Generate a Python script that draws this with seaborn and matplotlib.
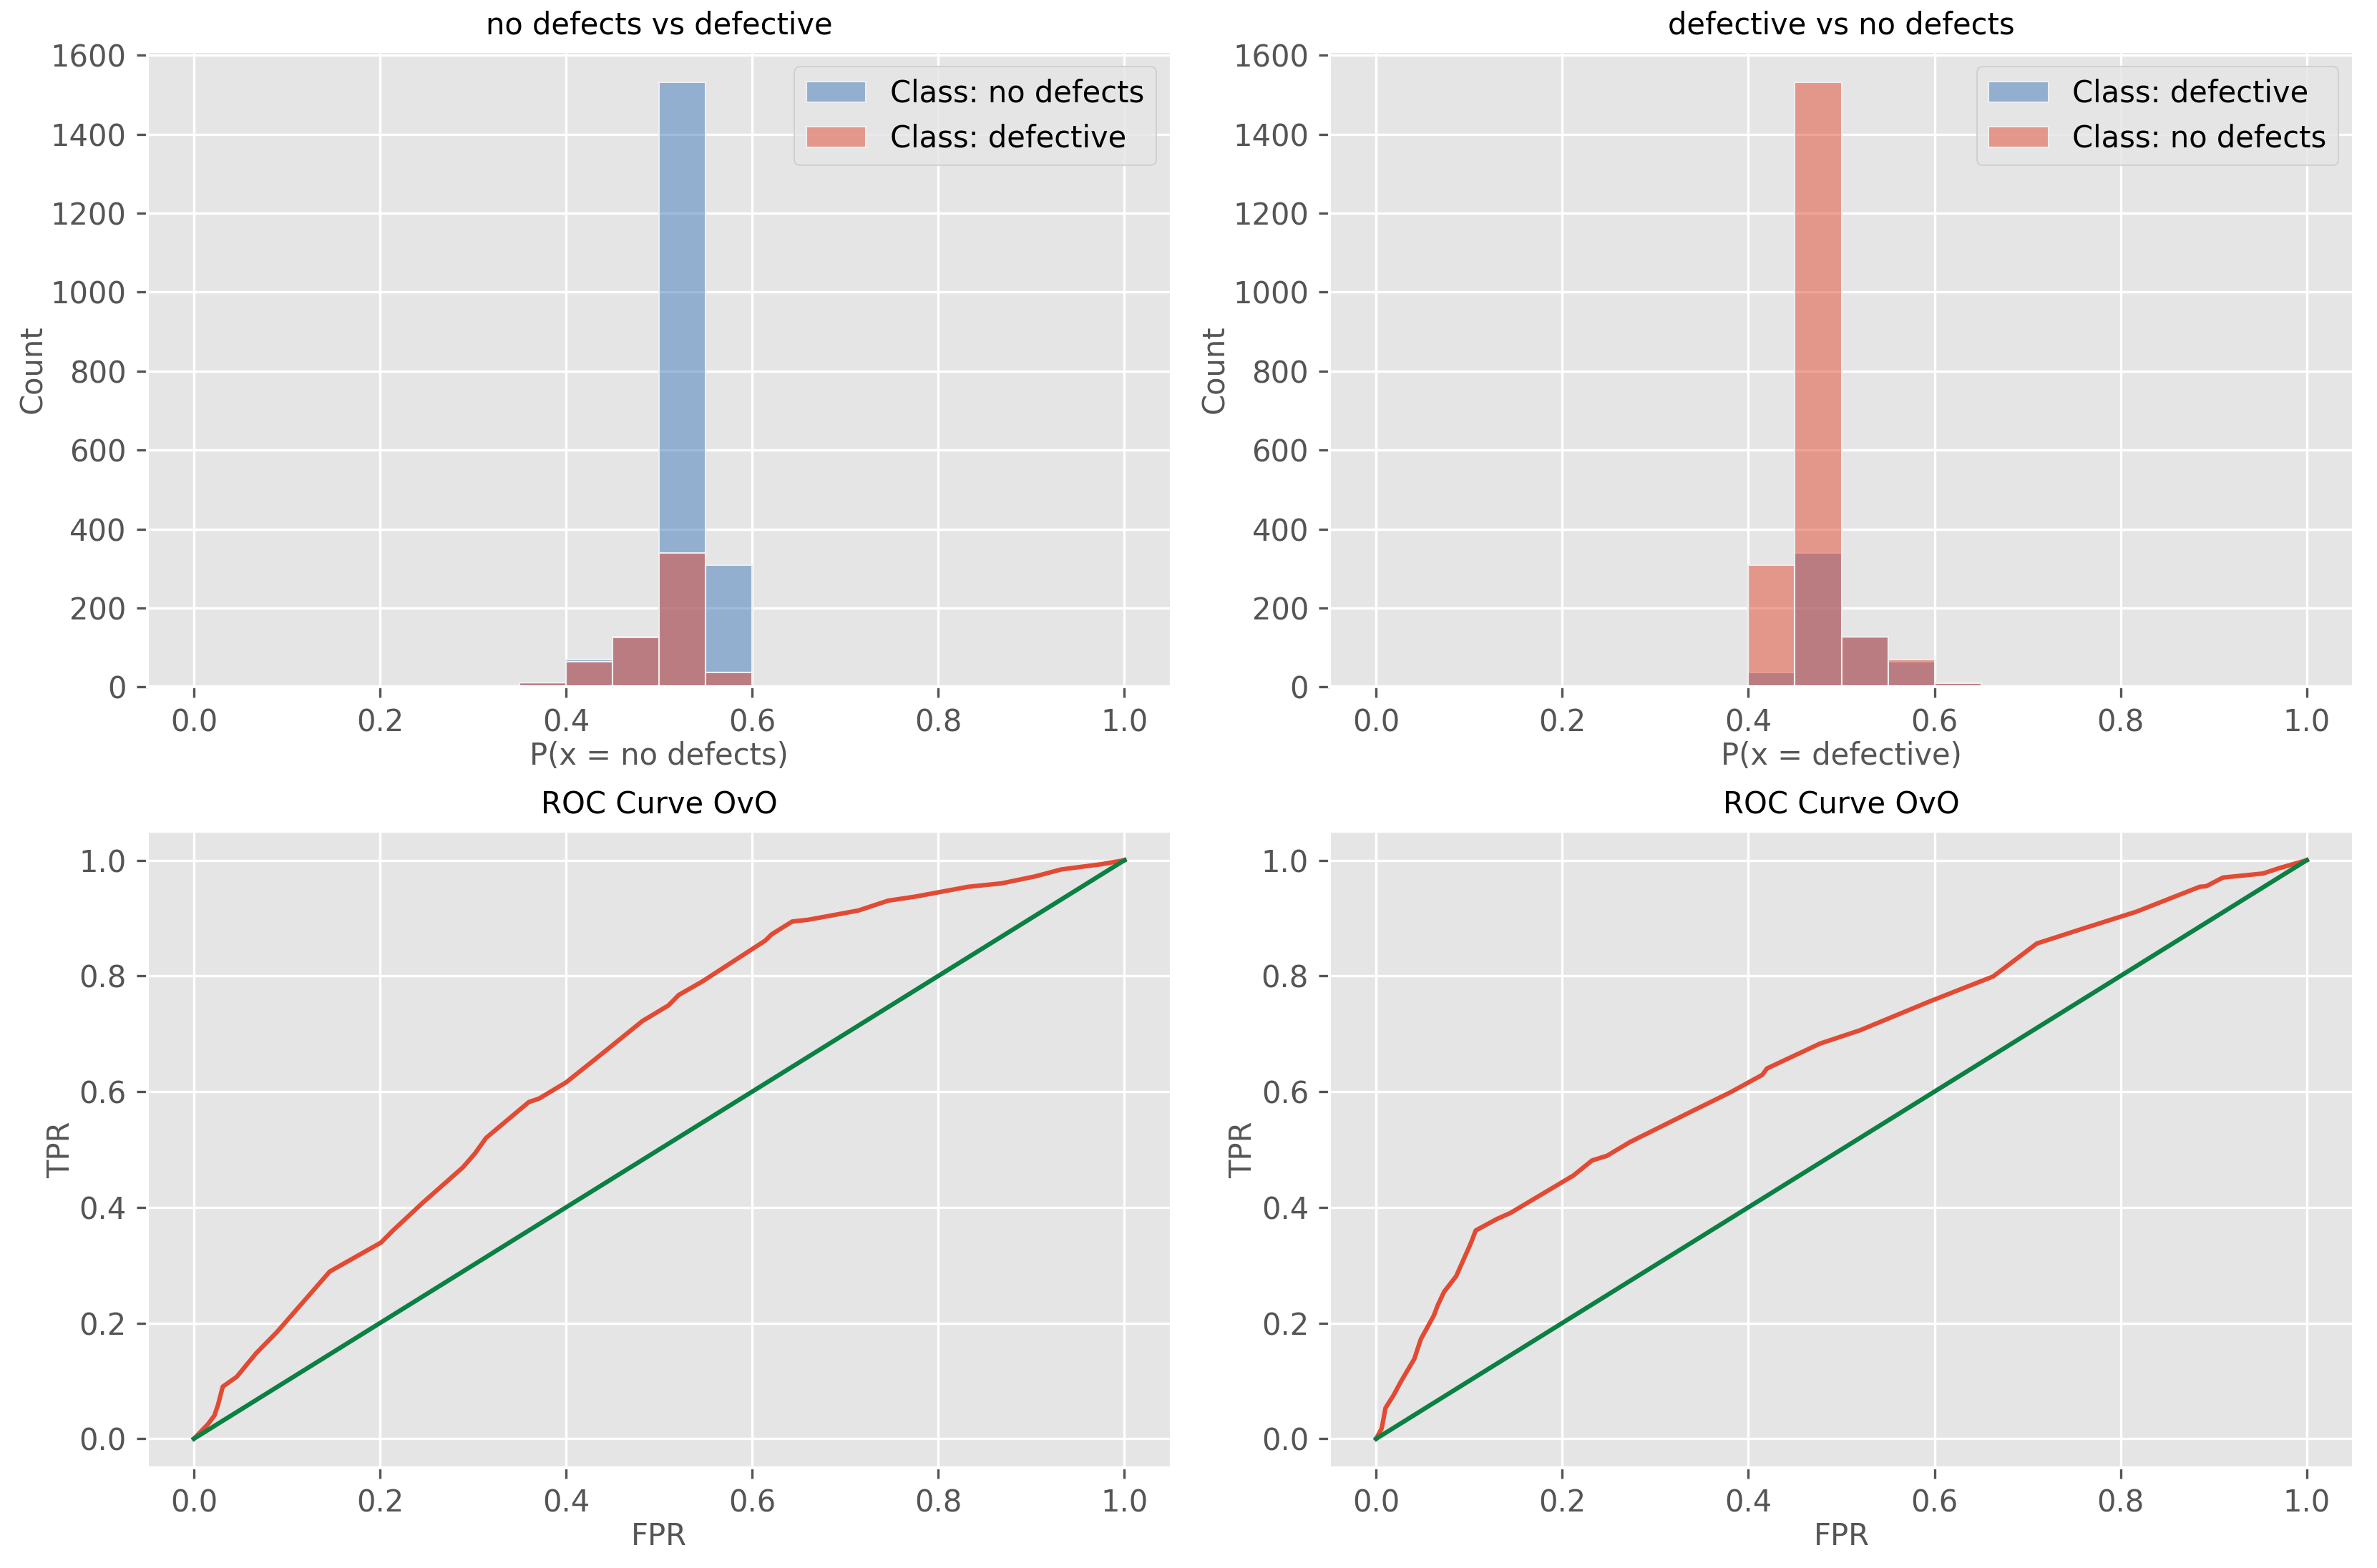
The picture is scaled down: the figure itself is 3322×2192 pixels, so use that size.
import matplotlib

matplotlib.use("Agg")
import matplotlib.pyplot as plt
import pandas as pd
import seaborn as sns

# ====== DATA =====
class_a = "no defects"
class_b = "defective"

# histogram bins (width 0.05), counts
bins_left = [0.35, 0.40, 0.45, 0.50, 0.55, 0.60]
left_counts_a = [10, 69, 128, 1532, 309]  # class: no defects
left_counts_b = [12, 64, 125, 340, 36]  # class: defective

bins_right = [0.40, 0.45, 0.50, 0.55, 0.60, 0.65]
right_counts_a = [36, 340, 125, 64, 12]  # class: defective
right_counts_b = [309, 1532, 128, 69, 10]  # class: no defects

# ROC curves (one vs one)
fpr_left = [0.0, 0.015, 0.022, 0.026, 0.031, 0.046, 0.067, 0.089, 0.146, 0.201,
            0.214, 0.246, 0.289, 0.302, 0.314, 0.360, 0.371, 0.400, 0.432, 0.482,
            0.510, 0.521, 0.546, 0.614, 0.621, 0.643, 0.660, 0.714, 0.746, 0.775,
            0.832, 0.868, 0.904, 0.932, 0.975, 1.0]
tpr_left = [0.0, 0.025, 0.040, 0.059, 0.090, 0.107, 0.148, 0.184, 0.289, 0.339,
            0.360, 0.408, 0.469, 0.493, 0.520, 0.582, 0.588, 0.616, 0.657, 0.722,
            0.749, 0.767, 0.790, 0.861, 0.872, 0.894, 0.897, 0.913, 0.930, 0.937,
            0.954, 0.960, 0.972, 0.984, 0.993, 1.0]

fpr_right = [0.0, 0.006, 0.010, 0.019, 0.027, 0.041, 0.048, 0.062, 0.066, 0.073,
             0.086, 0.102, 0.107, 0.130, 0.144, 0.212, 0.232, 0.248, 0.273, 0.338,
             0.381, 0.415, 0.420, 0.477, 0.520, 0.595, 0.663, 0.710, 0.760, 0.817,
             0.885, 0.892, 0.910, 0.953, 0.970, 1.0]
tpr_right = [0.0, 0.018, 0.053, 0.076, 0.100, 0.138, 0.172, 0.213, 0.230, 0.254,
             0.281, 0.339, 0.360, 0.380, 0.390, 0.455, 0.481, 0.489, 0.513, 0.565,
             0.599, 0.629, 0.640, 0.683, 0.706, 0.756, 0.799, 0.856, 0.882, 0.911,
             0.954, 0.955, 0.970, 0.977, 0.986, 1.0]

diag = [0.0, 1.0]

BLUE = "#437BBB"
RED = "#E24A33"
GREEN = "#0b8043"


# ====== METHODS =====
def hist_panel(ax, edges, counts_a, counts_b, label_a, label_b, title, xlabel):
    centers = [(lo + hi) / 2 for lo, hi in zip(edges[:-1], edges[1:])]
    df = pd.DataFrame({"p": centers, "a": counts_a, "b": counts_b})
    sns.histplot(data=df, x="p", weights="a", bins=edges, color=BLUE, alpha=0.5,
                 edgecolor="#EEEEEE", linewidth=0.5, label=f"Class: {label_a}", ax=ax)
    sns.histplot(data=df, x="p", weights="b", bins=edges, color=RED, alpha=0.5,
                 edgecolor="#EEEEEE", linewidth=0.5, label=f"Class: {label_b}", ax=ax)
    ax.set_xlim(-0.05, 1.05)
    ax.set_ylim(0, 1609)
    ax.set_title(title, fontsize=10)
    ax.set_xlabel(xlabel, labelpad=1)
    ax.set_ylabel("Count", labelpad=1)
    ax.legend(loc="upper right", fontsize=10)


def roc_panel(ax, fpr, tpr):
    sns.lineplot(x=fpr, y=tpr, color=RED, linewidth=1.5, estimator=None, sort=False, ax=ax)
    sns.lineplot(x=diag, y=diag, color=GREEN, linewidth=1.5, estimator=None, sort=False, ax=ax)
    ax.set_xlim(-0.05, 1.05)
    ax.set_ylim(-0.05, 1.05)
    ax.set_title("ROC Curve OvO", fontsize=10)
    ax.set_xlabel("FPR", labelpad=1)
    ax.set_ylabel("TPR", labelpad=1)


# ===== MAIN =====
plt.style.use("ggplot")
plt.rcParams.update({
    "font.size": 10,
    "axes.titlesize": 10,
    "axes.labelsize": 10,
    "xtick.labelsize": 10,
    "ytick.labelsize": 10,
    "legend.fontsize": 10,
})

fig, axes = plt.subplots(2, 2, figsize=(3322 / 300, 2192 / 300), dpi=300)
fig.subplots_adjust(left=0.062, right=0.990, top=0.965, bottom=0.064,
                    wspace=0.155, hspace=0.22)

# nudge the top row up a little
for ax in axes[0]:
    pos = ax.get_position()
    ax.set_position([pos.x0, 0.5619, pos.width, 0.967 - 0.5619])

hist_panel(axes[0, 0], bins_left, left_counts_a, left_counts_b, class_a, class_b,
           f"{class_a} vs {class_b}", f"P(x = {class_a})")
hist_panel(axes[0, 1], bins_right, right_counts_a, right_counts_b, class_b, class_a,
           f"{class_b} vs {class_a}", f"P(x = {class_b})")
roc_panel(axes[1, 0], fpr_left, tpr_left)
roc_panel(axes[1, 1], fpr_right, tpr_right)

fig.savefig("out.png", dpi=300)
